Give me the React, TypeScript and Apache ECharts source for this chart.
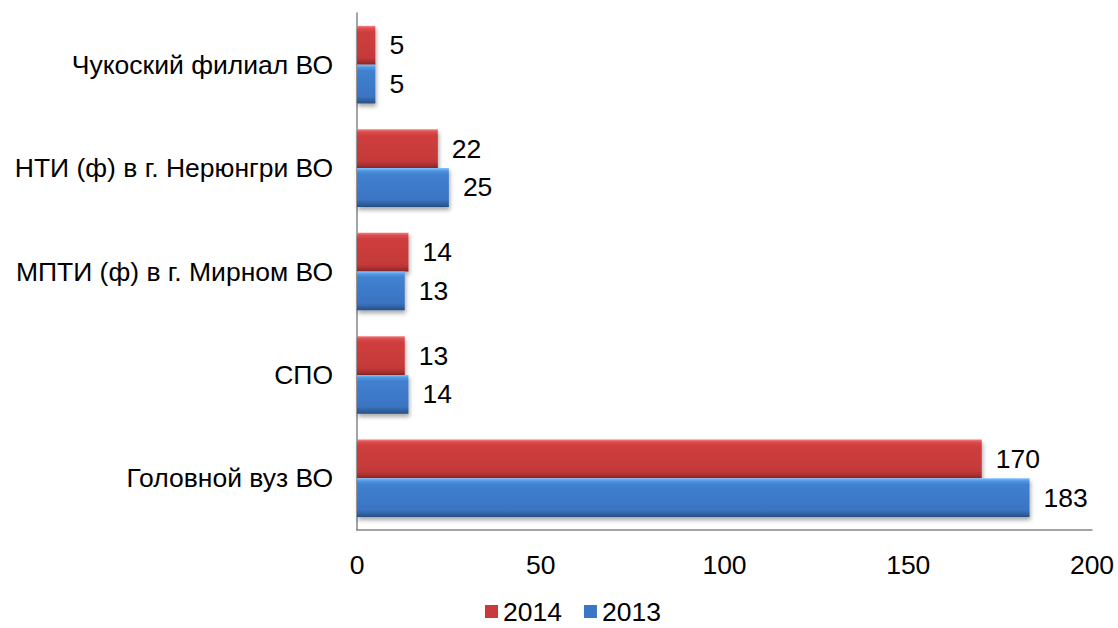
import React, { useEffect, useRef } from "react";
import * as echarts from "echarts";

const categories = [
  "Головной вуз ВО",
  "СПО",
  "МПТИ (ф) в г. Мирном ВО",
  "НТИ (ф) в г. Нерюнгри ВО",
  "Чукоский филиал ВО",
];
const values2014 = [170, 13, 14, 22, 5];
const values2013 = [183, 14, 13, 25, 5];
const xTicks = { min: 0, max: 200, interval: 50 };

const redFill = new echarts.graphic.LinearGradient(0, 0, 0, 1, [
  { offset: 0, color: "#f27e7e" },
  { offset: 0.07, color: "#dc4c4c" },
  { offset: 0.16, color: "#cf3e3e" },
  { offset: 0.82, color: "#c43939" },
  { offset: 0.92, color: "#a92f2f" },
  { offset: 1, color: "#862626" },
]);
const blueFill = new echarts.graphic.LinearGradient(0, 0, 0, 1, [
  { offset: 0, color: "#80c2ff" },
  { offset: 0.07, color: "#5196e2" },
  { offset: 0.16, color: "#4081d0" },
  { offset: 0.82, color: "#3a74c2" },
  { offset: 0.92, color: "#30619f" },
  { offset: 1, color: "#274e84" },
]);

export default function App() {
  const ref = useRef<HTMLDivElement>(null);
  useEffect(() => {
    if (!ref.current) return;
    const chart = echarts.init(ref.current, undefined, { renderer: "svg" });
    const font = "'Liberation Sans', Arial, sans-serif";
    const fs = 26.5;
    const barStyle = (fill: any) => ({
      color: fill,
      shadowColor: "rgba(0,0,0,0.35)",
      shadowBlur: 4,
      shadowOffsetX: 1,
      shadowOffsetY: 3,
    });
    const label = {
      show: true,
      position: "right",
      distance: 14,
      fontSize: fs,
      color: "#000",
      fontFamily: font,
    };
    chart.setOption({
      animation: false,
      backgroundColor: "#fff",
      textStyle: { fontFamily: font },
      grid: { left: 357, top: 13, width: 735, height: 517, containLabel: false },
      legend: {
        data: [
          { name: "2014", itemStyle: { color: "#c93b3b" } },
          { name: "2013", itemStyle: { color: "#3a76c6" } },
        ],
        top: 593,
        left: 480,
        itemWidth: 13,
        itemHeight: 13,
        itemGap: 22,
        icon: "rect",
        textStyle: { fontSize: fs, color: "#000", fontFamily: font },
      },
      xAxis: {
        type: "value",
        min: xTicks.min,
        max: xTicks.max,
        interval: xTicks.interval,
        axisLine: { show: true, lineStyle: { color: "#868686", width: 1.5 } },
        axisTick: { show: false },
        splitLine: { show: false },
        axisLabel: { fontSize: fs, color: "#000", margin: 21, fontFamily: font },
      },
      yAxis: {
        type: "category",
        data: categories,
        axisLine: { show: true, lineStyle: { color: "#868686", width: 1.5 } },
        axisTick: { show: false },
        axisLabel: { fontSize: fs, color: "#000", margin: 24, fontFamily: font },
      },
      series: [
        {
          name: "2014",
          type: "bar",
          data: values2014,
          barGap: "0%",
          barCategoryGap: "25%",
          itemStyle: barStyle(redFill),
          label,
        },
        {
          name: "2013",
          type: "bar",
          data: values2013,
          barGap: "0%",
          barCategoryGap: "25%",
          itemStyle: barStyle(blueFill),
          label,
        },
      ],
    });
    return () => chart.dispose();
  }, []);
  return (
    <div
      ref={ref}
      style={{ position: "fixed", left: 0, top: 0, width: 1118, height: 628 }}
    />
  );
}
